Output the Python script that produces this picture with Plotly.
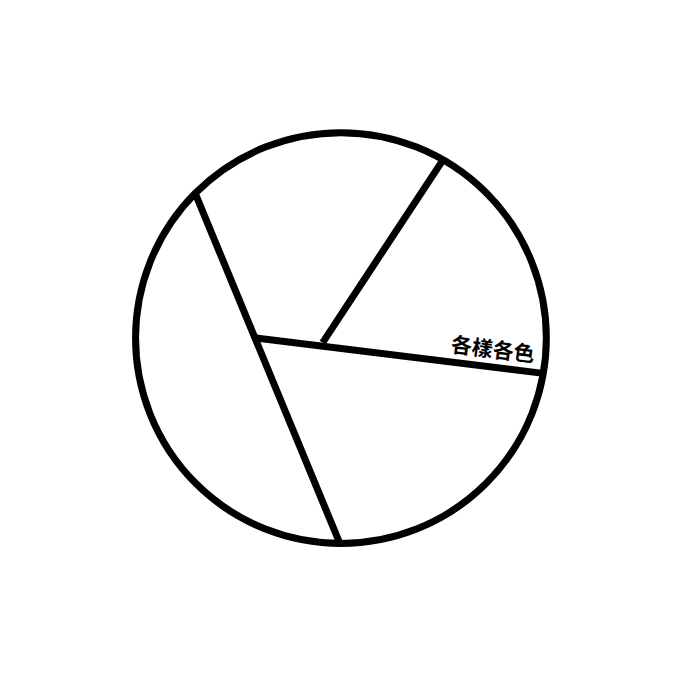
import numpy as np
import plotly.graph_objects as go

# Partition of a unit circle into cells (voronoi-like diagram)
# Rim points given as angles (degrees), junction points as x/y in radius units
rim_angles = {"A": 135.2, "B": 269.7, "C": -9.9, "D": 60.2}
junctions = {"J1": (-0.414, 0.0), "J2": (-0.089, -0.022)}
edges = [("A", "B"), ("J1", "C"), ("J2", "D")]
label_text = "各樣各色"
label_pos = (0.738, -0.049)
label_angle = 7

def pt(name):
    if name in rim_angles:
        a = np.deg2rad(rim_angles[name])
        return np.cos(a), np.sin(a)
    return junctions[name]

fig = go.Figure()
for a, b in edges:
    (x0, y0), (x1, y1) = pt(a), pt(b)
    fig.add_trace(go.Scatter(x=[x0, x1], y=[y0, y1], mode="lines",
                             line=dict(color="black", width=7),
                             hoverinfo="skip", showlegend=False))

fig.add_shape(type="circle", xref="x", yref="y", x0=-1, y0=-1, x1=1, y1=1,
              line=dict(color="black", width=7), fillcolor="rgba(0,0,0,0)")

fig.add_annotation(x=label_pos[0], y=label_pos[1], text="<b>" + label_text + "</b>",
                   textangle=label_angle, showarrow=False,
                   font=dict(family="Noto Sans CJK TC", size=21, color="black"))

fig.update_layout(
    width=677, height=677, margin=dict(l=0, r=0, t=0, b=0),
    paper_bgcolor="white", plot_bgcolor="white",
    xaxis=dict(range=[-1.621, 1.675], visible=False, fixedrange=True),
    yaxis=dict(range=[-1.689, 1.607], visible=False, fixedrange=True),
)
fig.write_html("out.html")
